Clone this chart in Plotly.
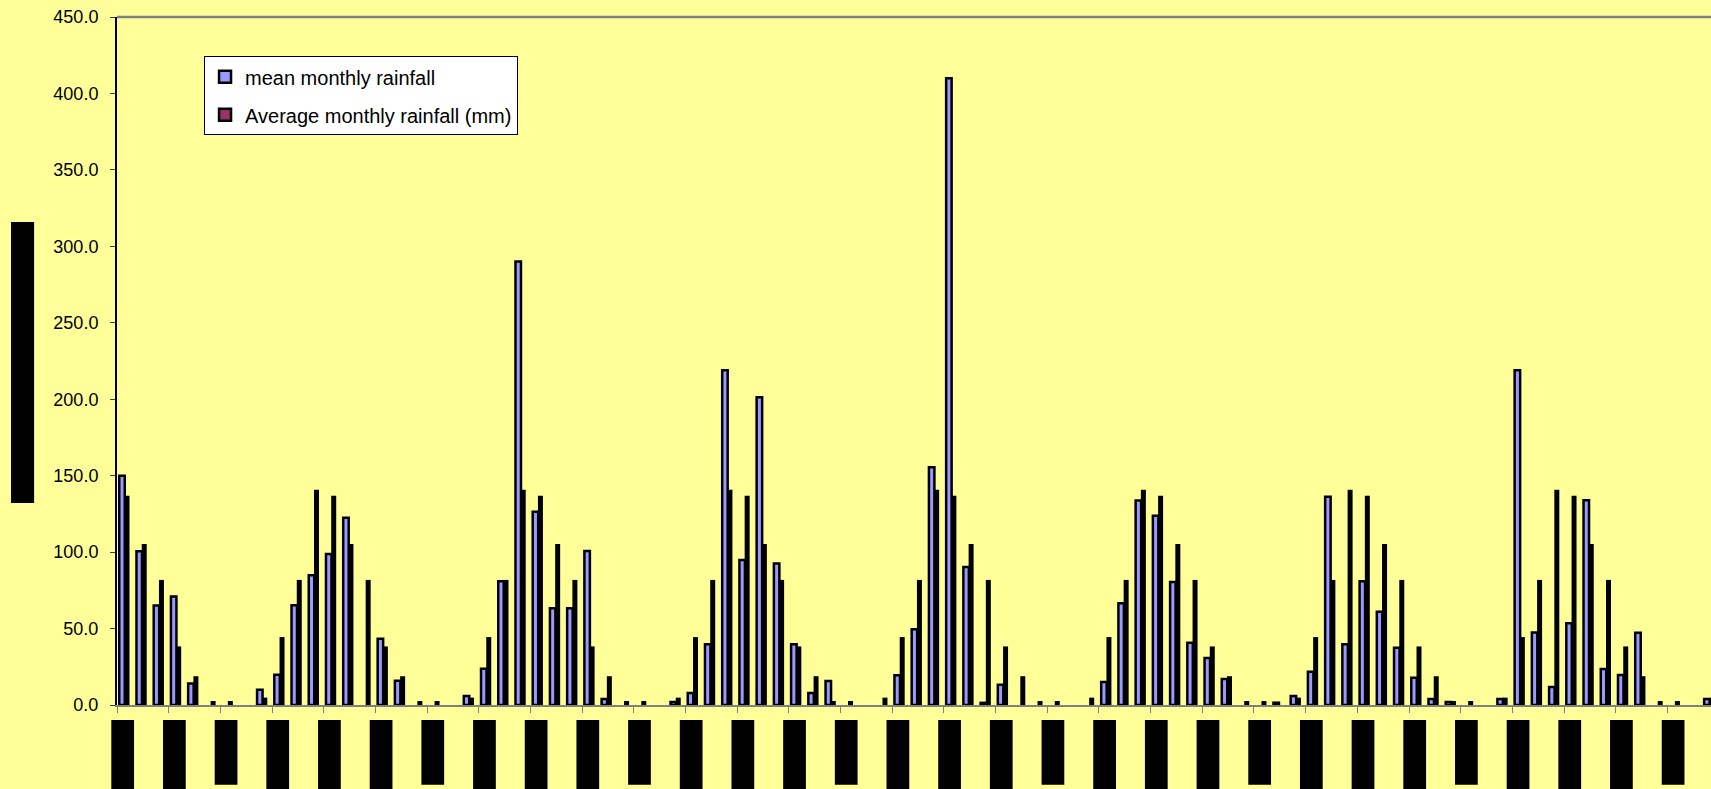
import plotly.graph_objects as go

# Monthly rainfall, one value per month, running left to right
mean_monthly_rainfall = [
    150, 100.5, 65, 71, 14, 0, 0, 0, 10, 19.8, 65.2, 84.8,
    98.7, 122.5, 0, 43.4, 15.9, 0, 0, 0, 5.9, 23.7, 81, 290,
    126.4, 63.2, 63.2, 100.7, 3.9, 0, 0, 0, 2, 7.8, 39.7, 219,
    94.8, 201.3, 92.6, 39.7, 7.8, 15.7, 0, 0, 0, 19.5, 49.5, 155.5,
    410, 90.3, 1.4, 13.2, 0, 0, 0, 0, 0, 15.1, 66.6, 133.7,
    123.8, 80.4, 40.7, 30.8, 17, 0, 0, 1.5, 5.9, 21.8, 136.2, 39.7,
    81, 61, 37.5, 17.9, 3.9, 2, 0, 0, 3.9, 219, 47.5, 11.8,
    53.4, 134, 23.5, 19.6, 47.3, 0, 0, 0, 4,
]

# Long-term average for the same months (mm)
average_monthly_rainfall = [
    136, 104.5, 81, 37.5, 18, 1.8, 1.8, 0, 4, 43.6, 81, 140,
    136, 104.5, 81, 37.5, 18, 1.8, 1.8, 0, 4, 43.6, 81, 140,
    136, 104.5, 81, 37.5, 18, 1.8, 1.8, 0, 4, 43.6, 81, 140,
    136, 104.5, 81, 37.5, 18, 1.8, 1.8, 0, 4, 43.6, 81, 140,
    136, 104.5, 81, 37.5, 18, 1.8, 1.8, 0, 4, 43.6, 81, 140,
    136, 104.5, 81, 37.5, 18, 1.8, 1.8, 0, 4, 43.6, 81, 140,
    136, 104.5, 81, 37.5, 18, 1.8, 1.8, 0, 4, 43.6, 81, 140,
    136, 104.5, 81, 37.5, 18, 1.8, 1.8, 0, 4,
]

month_index = list(range(len(mean_monthly_rainfall)))
label_every = 3
x_range = [0, 92.53]

BG = "#FFFF99"
FONT = "Liberation Sans, Arial, sans-serif"


def dry_as_gap(values):
    # months with no rain get no bar at all (not an outlined sliver)
    return [v if v else None for v in values]


fig = go.Figure()
fig.add_trace(go.Bar(
    x=month_index, y=dry_as_gap(mean_monthly_rainfall), name="mean monthly rainfall",
    marker=dict(color="#9999FF", line=dict(color="black", width=2.5)),
    offset=0.131, width=0.319, legendgroup="mean",
))
fig.add_trace(go.Bar(
    x=month_index, y=dry_as_gap(average_monthly_rainfall),
    name="Average monthly rainfall (mm)",
    marker=dict(color="#993366", line=dict(color="black", width=2.5)),
    offset=0.5075, width=0.145, legendgroup="avg",
))


def to_paper(v):
    return (v - x_range[0]) / (x_range[1] - x_range[0])


shapes = []
# top border of the plot area
shapes.append(dict(type="line", xref="paper", yref="paper", x0=0, x1=1, y0=1, y1=1,
                   line=dict(color="#808080", width=2.5), layer="above"))
# blacked-out category labels under every third month
for k, m in enumerate(month_index[::label_every]):
    bottom = -0.116 if k % 4 == 2 else -0.2
    shapes.append(dict(type="rect", xref="paper", yref="paper",
                       x0=to_paper(m - 0.33), x1=to_paper(m + 0.99),
                       y0=bottom, y1=-0.0218,
                       fillcolor="black", line=dict(width=0), layer="above"))
# blacked-out y-axis title
shapes.append(dict(type="rect", xref="paper", yref="paper",
                   x0=-0.0665, x1=-0.052, y0=0.2936, y1=0.702,
                   fillcolor="black", line=dict(width=0), layer="above"))

fig.update_layout(
    width=1711, height=789,
    margin=dict(l=117, r=0, t=17, b=84, pad=0),
    paper_bgcolor=BG, plot_bgcolor=BG,
    barmode="overlay",
    font=dict(family=FONT, color="black", size=18),
    showlegend=True,
    legend=dict(
        x=0.0546, y=0.943, xanchor="left", yanchor="top",
        bgcolor="white", bordercolor="black", borderwidth=1,
        font=dict(family=FONT, size=20, color="black"),
        tracegroupgap=9,
    ),
    xaxis=dict(
        range=x_range, tickmode="linear", tick0=0, dtick=label_every,
        ticks="outside", ticklen=6, tickwidth=1, tickcolor="#808080",
        showticklabels=False, showgrid=False, zeroline=False,
        showline=True, linecolor="#808080", linewidth=2,
    ),
    yaxis=dict(
        range=[0, 450], tickmode="linear", tick0=0, dtick=50, tickformat=".1f",
        ticks="outside", ticklen=5, tickwidth=1, tickcolor="#404040",
        ticklabelstandoff=8,
        tickfont=dict(family=FONT, size=18, color="black"),
        showgrid=False, zeroline=False,
        showline=True, linecolor="black", linewidth=2,
    ),
    shapes=shapes,
)

fig.write_html("out.html")
